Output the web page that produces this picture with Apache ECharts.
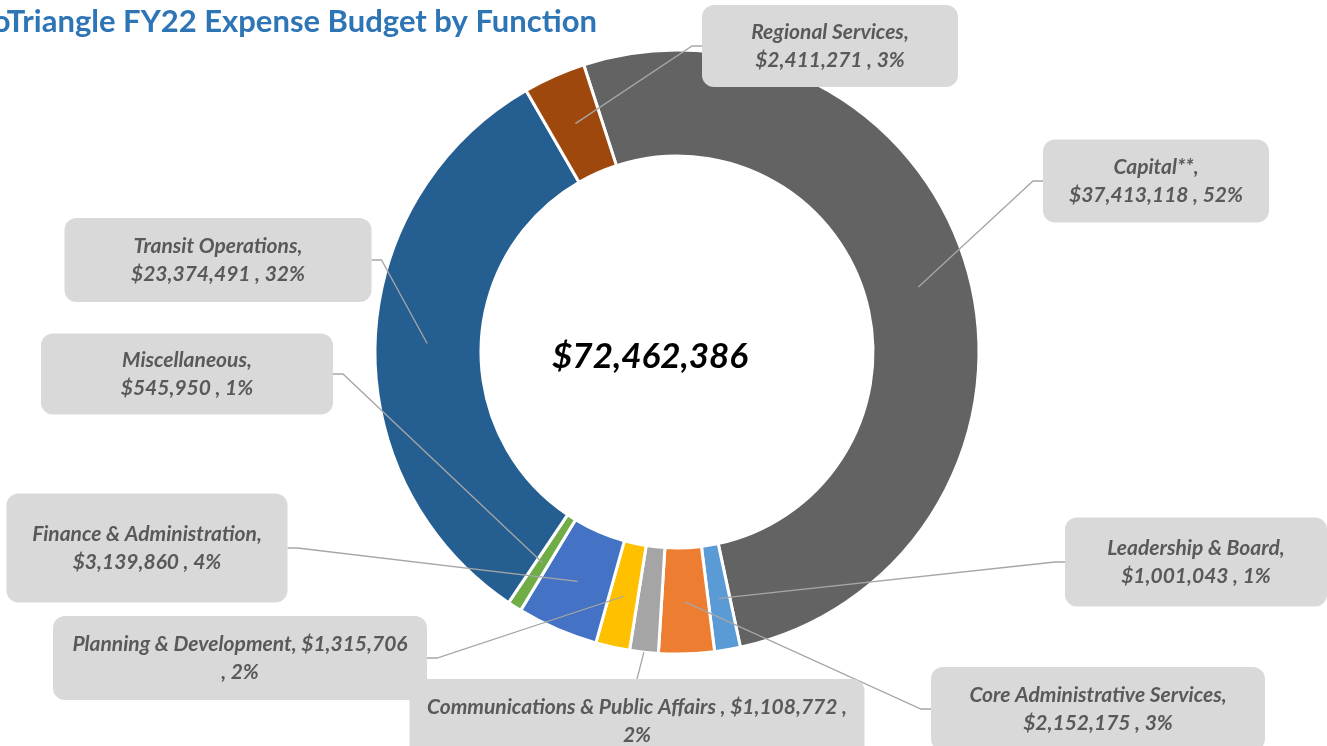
<!DOCTYPE html>
<html>
<head>
<meta charset="utf-8">
<script src="https://cdn.jsdelivr.net/npm/echarts@6/dist/echarts.min.js"></script>
<style>
  html, body { margin: 0; padding: 0; background: #fff; }
  #chart { width: 1327px; height: 746px; }
</style>
</head>
<body>
<div id="chart"></div>
<script>
'use strict';

// clockwise from the top-left edge of Capital
const names = ['Capital**', 'Leadership & Board', 'Core Administrative Services',
  'Communications & Public Affairs', 'Planning & Development', 'Finance & Administration',
  'Miscellaneous', 'Transit Operations', 'Regional Services'];
const values = [37413118, 1001043, 2152175, 1108772, 1315706, 3139860, 545950, 23374491, 2411271];
const colors = ['#636363', '#5b9bd5', '#ed7d31', '#a5a5a5', '#ffc000', '#4472c4', '#70ad47', '#255e91', '#9e480e'];

// label boxes: centre x, centre y, width, height, side the leader line meets
const boxes = [
  [1156, 181, 226, 83, 'left'],
  [1196, 562, 262, 89, 'left'],
  [1098, 709, 334, 84, 'left'],
  [637, 721, 455, 84, 'top'],
  [240, 658, 374, 84, 'right'],
  [147, 548, 281, 109, 'right'],
  [187, 374, 292, 81, 'right'],
  [218, 260, 307, 84, 'right'],
  [830, 46, 256, 82, 'left'],
];

const CX = 677, CY = 352, R_IN = 196, R_OUT = 302, R_MID = 250;
const LINE_H = 28;

const money = (v) => '$' + String(v).replace(/\B(?=(\d{3})+(?!\d))/g, ',');
const total = values.reduce((a, b) => a + b, 0);

function labelText(i, pct) {
  const n = names[i], v = money(values[i]), p = Math.round(pct) + '%';
  if (n.startsWith('Planning')) return n + ', ' + v + '\n, ' + p;
  if (n.startsWith('Communications')) return n + ' , ' + v + ' ,\n' + p;
  return n + ',\n' + v + ' , ' + p;
}

const ringData = names.map((n, i) => ({ name: n, value: values[i], itemStyle: { color: colors[i] } }));

// same slices again, invisible, carrying the labels so the leader lines sit over the ring
const labelData = names.map((n, i) => ({
  name: n,
  value: values[i],
  label: { width: boxes[i][2], padding: [(boxes[i][3] - 2 * LINE_H) / 2, 0] },
}));

const pieBase = {
  type: 'pie',
  center: [CX, CY],
  radius: [R_IN, R_OUT],
  startAngle: 108,
  clockwise: true,
  avoidLabelOverlap: false,
  emphasis: { disabled: true },
  silent: true,
};

const chart = echarts.init(document.getElementById('chart'), null, { renderer: 'canvas' });
chart.setOption({
  animation: false,
  backgroundColor: '#fff',
  graphic: [
    {
      type: 'text', x: 597, y: 22, z: 10,
      style: {
        text: 'GoTriangle FY22 Expense Budget by Function',
        fill: '#2e75b6', font: 'bold 31px Lato', textAlign: 'right', textVerticalAlign: 'middle',
      },
    },
    {
      type: 'text', x: 650, y: 357, z: 10,
      style: {
        text: money(total), fill: '#000',
        font: 'italic bold 35px Lato', textAlign: 'center', textVerticalAlign: 'middle',
      },
    },
  ],
  series: [
    Object.assign({}, pieBase, {
      z: 2,
      itemStyle: { borderColor: '#fff', borderWidth: 3 },
      label: { show: false },
      labelLine: { show: false },
      data: ringData,
    }),
    Object.assign({}, pieBase, {
      z: 3,
      itemStyle: { color: 'rgba(0,0,0,0)', borderWidth: 0 },
      label: {
        show: true,
        position: 'outside',
        formatter: (p) => labelText(p.dataIndex, p.percent),
        color: '#595959',
        fontFamily: 'Lato',
        fontStyle: 'italic',
        fontWeight: 'bold',
        fontSize: 21,
        lineHeight: LINE_H,
        align: 'center',
        backgroundColor: '#d9d9d9',
        borderRadius: 12,
        overflow: 'none',
      },
      labelLine: { show: true, lineStyle: { color: '#a6a6a6', width: 1.3 } },
      labelLayout: (p) => {
        const [x, y, w, h, side] = boxes[p.dataIndex];
        const p0 = p.labelLinePoints[0];
        const dx = p0[0] - CX, dy = p0[1] - CY;
        const k = side === 'top' ? 1 : R_MID / Math.hypot(dx, dy);
        const start = [CX + dx * k, CY + dy * k];
        let pts;
        if (side === 'left') pts = [start, [x - w / 2 - 10, y], [x - w / 2, y]];
        else if (side === 'right') pts = [start, [x + w / 2 + 10, y], [x + w / 2, y]];
        else pts = [start, [x, y - h / 2], [x, y - h / 2]];
        return { x, y, align: 'center', verticalAlign: 'middle', labelLinePoints: pts };
      },
      data: labelData,
    }),
  ],
});
</script>
</body>
</html>
